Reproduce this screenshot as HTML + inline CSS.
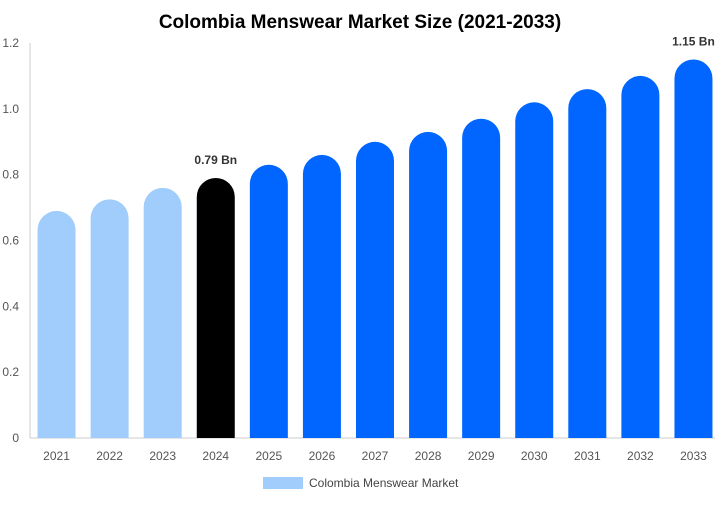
<!DOCTYPE html>
<html><head><meta charset="utf-8"><style>
body{margin:0;background:#fff;font-family:"Liberation Sans",sans-serif;}
</style></head><body>
<svg id="chart" width="720" height="500">
<text x="360" y="28" text-anchor="middle" font-size="19" font-weight="bold" fill="#000">Colombia Menswear Market Size (2021-2033)</text>
<g id="axes"></g><g id="bars"></g><g id="labels"></g>
<g>
<rect x="263" y="477" width="40" height="12" fill="#a0cdfb"></rect>
<text x="309" y="487" font-size="12" fill="#444">Colombia Menswear Market</text>
</g>
</svg>
<script>
const categories=["2021","2022","2023","2024","2025","2026","2027","2028","2029","2030","2031","2032","2033"];
const values=[0.69,0.725,0.76,0.79,0.83,0.86,0.9,0.93,0.97,1.02,1.06,1.1,1.15];
const yTicks=[0,0.2,0.4,0.6,0.8,1.0,1.2];
const tickLabels=["0","0.2","0.4","0.6","0.8","1.0","1.2"];
const valueLabels={"2024":"0.79 Bn","2033":"1.15 Bn"};
const ns="http://www.w3.org/2000/svg";
const L=30,R=720,T=43,B=438;
const y=v=>B-(v/1.2)*(B-T);
const step=(R-L)/categories.length;
const x=i=>L+step*(i+0.5);
const bw=38;
function mk(tag,attrs,parent){const e=document.createElementNS(ns,tag);for(const k in attrs)e.setAttribute(k,attrs[k]);parent.appendChild(e);return e;}
const axes=document.getElementById('axes'),bars=document.getElementById('bars'),labels=document.getElementById('labels');
let ax=mk('line',{x1:L,y1:T,x2:L,y2:B,stroke:'#ccc'},axes);


let bx=mk('line',{x1:L,y1:B,x2:715,y2:B,stroke:'#ccc'},axes);


yTicks.forEach((t,i)=>{const e=mk('text',{x:L-11,y:y(t)+4,'text-anchor':'end','font-size':12,fill:'#555'},axes);e.textContent=tickLabels[i];

});
categories.forEach((c,i)=>{
const v=values[i],top=y(v),r=bw/2,cx=x(i);
const col=i<3?'#a0cdfb':(i===3?'#000':'#0066ff');
const d=`M${cx-r},${B} L${cx-r},${top+r} A${r},${r} 0 0 1 ${cx+r},${top+r} L${cx+r},${B} Z`;
const p=mk('path',{d:d,fill:col},bars);


const t=mk('text',{x:cx,y:B+22,'text-anchor':'middle','font-size':12,fill:'#555'},labels);t.textContent=c;


if(valueLabels[c]){const vl=mk('text',{x:cx,y:top-14,'text-anchor':'middle','font-size':12,'font-weight':'bold',fill:'#333'},labels);vl.textContent=valueLabels[c];

}
});
</script>
</body></html>
